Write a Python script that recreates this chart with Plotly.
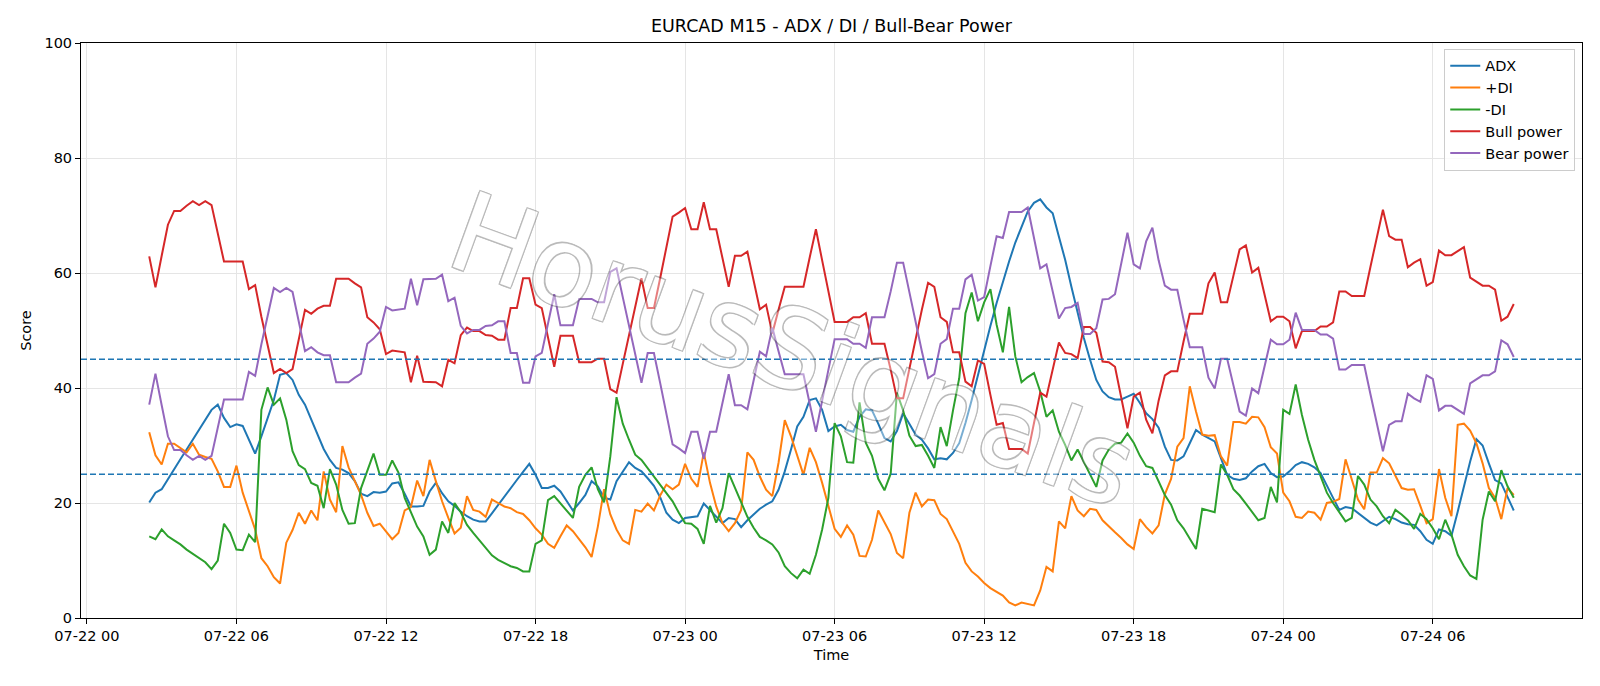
import pandas as pd
import plotly.graph_objects as go

start_time = "2025-07-22 02:30"
n_points = 220
times = pd.date_range(start_time, periods=n_points, freq="15min")

adx = [
    20.1, 21.8, 22.4, 24.2, 25.9, 27.6, 29.3, 31.0, 32.7, 34.5,
    36.2, 37.1, 34.8, 33.2, 33.7, 33.4, 31.0, 28.6, 31.6, 34.8,
    37.9, 42.3, 42.6, 41.4, 38.8, 37.1, 34.5, 32.0, 29.4, 27.5,
    26.1, 25.8, 25.2, 23.8, 21.6, 21.2, 21.9, 21.8, 22.0, 23.4,
    23.6, 21.6, 19.4, 19.4, 19.5, 22.0, 23.5, 21.7, 20.3, 19.5,
    18.5, 17.7, 17.1, 16.8, 16.8, 18.2, 19.7, 21.1, 22.5, 24.0,
    25.4, 26.8, 24.9, 22.6, 22.6, 23.0, 22.0, 20.3, 18.7, 20.0,
    21.4, 23.8, 22.9, 20.9, 20.6, 23.8, 25.5, 27.1, 26.1, 25.5,
    24.3, 23.0, 21.0, 18.3, 17.1, 16.5, 17.4, 17.6, 17.7, 19.9,
    18.8, 17.7, 16.5, 17.4, 17.2, 15.8, 17.0, 18.0, 19.0, 19.7,
    20.3, 22.3, 25.5, 29.3, 33.3, 35.0, 37.9, 38.2, 36.2, 32.5,
    33.3, 33.6, 32.7, 32.4, 35.0, 36.3, 36.1, 33.8, 31.3, 30.7,
    32.5, 35.6, 33.8, 31.9, 31.0, 29.5, 27.6, 27.8, 27.6, 28.7,
    30.4, 33.9, 37.9, 42.3, 46.3, 50.8, 54.8, 58.5, 62.0, 65.3,
    68.1, 70.7, 72.2, 72.8, 71.4, 70.4, 66.3, 62.3, 57.6, 53.0,
    48.7, 44.9, 41.4, 39.4, 38.4, 38.0, 38.0, 38.5, 39.0, 37.4,
    35.6, 34.6, 33.1, 29.8, 27.5, 27.4, 28.1, 30.4, 32.7, 31.9,
    31.3, 30.7, 27.8, 24.9, 24.2, 24.0, 24.3, 25.5, 26.4, 26.8,
    25.2, 24.5, 24.6, 25.5, 26.6, 27.1, 26.8, 26.2, 25.2, 22.9,
    20.9, 18.8, 19.3, 19.1, 18.3, 17.4, 16.6, 16.1, 16.8, 17.6,
    17.2, 16.6, 16.3, 16.2, 15.1, 13.6, 12.9, 15.4, 15.1, 14.3,
    18.5, 22.9, 27.2, 31.1, 30.0, 26.9, 24.0, 23.4, 21.1, 18.7,
]

plus_di = [
    32.3, 28.3, 26.7, 30.3, 30.3, 29.6, 28.8, 30.3, 28.4, 28.0,
    27.7, 25.5, 22.8, 22.8, 26.5, 21.8, 18.5, 15.4, 10.4, 9.0,
    7.1, 6.0, 13.1, 15.3, 18.3, 16.4, 18.7, 17.0, 25.5, 20.6,
    18.4, 29.9, 26.2, 23.8, 21.4, 18.3, 16.0, 16.4, 15.1, 13.7,
    14.8, 18.7, 19.3, 23.9, 21.2, 27.5, 23.8, 20.3, 17.4, 14.7,
    15.7, 21.2, 18.8, 18.5, 17.6, 20.6, 20.0, 19.4, 19.1, 18.4,
    18.1, 17.0, 15.6, 14.5, 12.9, 12.2, 14.2, 16.1, 15.1, 13.7,
    12.3, 10.6, 15.9, 22.4, 18.0, 15.4, 13.5, 12.9, 18.8, 18.5,
    19.9, 18.7, 21.3, 23.2, 22.4, 23.2, 26.8, 24.2, 22.8, 28.8,
    23.5, 19.4, 16.5, 15.1, 16.5, 18.8, 28.8, 27.5, 24.6, 22.3,
    21.2, 27.0, 34.4, 31.6, 28.4, 24.9, 29.6, 27.1, 23.5, 19.4,
    15.5, 14.1, 16.1, 14.5, 10.8, 10.7, 13.6, 18.7, 16.6, 14.6,
    11.3, 10.4, 18.3, 21.8, 19.4, 20.6, 20.5, 18.1, 17.2, 14.9,
    12.9, 9.6, 8.1, 7.2, 6.1, 5.2, 4.6, 3.9, 2.7, 2.2,
    2.7, 2.5, 2.2, 4.8, 8.9, 8.1, 16.8, 15.6, 21.2, 18.7,
    17.7, 19.0, 18.8, 17.0, 15.9, 14.9, 13.9, 12.8, 12.0, 17.2,
    15.8, 14.7, 16.1, 21.5, 24.2, 29.8, 31.3, 40.3, 35.9, 31.9,
    31.7, 31.8, 28.1, 26.5, 34.1, 34.1, 33.8, 35.0, 34.9, 33.2,
    29.7, 28.6, 21.8, 20.3, 17.6, 17.4, 18.5, 18.3, 17.1, 20.0,
    20.2, 20.7, 27.6, 24.3, 20.6, 18.9, 25.3, 25.3, 27.8, 26.9,
    24.6, 22.6, 22.3, 22.4, 19.5, 16.5, 17.2, 25.9, 20.9, 17.7,
    33.6, 33.8, 32.6, 30.4, 26.9, 22.6, 20.9, 17.2, 22.6, 21.4,
]

minus_di = [
    14.2, 13.7, 15.4, 14.2, 13.5, 12.8, 11.9, 11.2, 10.4, 9.7,
    8.5, 10.0, 16.4, 14.8, 11.9, 11.8, 14.5, 13.2, 36.2, 40.1,
    37.1, 38.2, 34.5, 29.0, 26.6, 25.9, 23.5, 23.0, 19.1, 25.9,
    23.2, 18.8, 16.4, 16.5, 22.6, 25.8, 28.6, 24.9, 24.9, 27.4,
    25.3, 20.9, 18.5, 15.9, 14.2, 11.0, 11.9, 16.8, 14.8, 20.0,
    18.4, 16.2, 14.8, 13.5, 12.4, 10.9, 10.1, 9.5, 9.0, 8.7,
    8.1, 8.1, 12.9, 13.5, 20.5, 21.2, 19.9, 18.5, 17.4, 22.8,
    24.9, 26.2, 22.4, 20.1, 28.1, 38.4, 33.8, 31.0, 28.4, 27.5,
    26.1, 24.7, 23.3, 21.8, 20.3, 18.3, 16.5, 16.4, 15.5, 12.9,
    19.5, 16.6, 19.1, 25.2, 22.6, 20.0, 17.6, 15.7, 14.1, 13.5,
    12.8, 11.4, 9.0, 7.8, 6.9, 8.4, 7.7, 11.0, 15.4, 20.9,
    33.9, 31.6, 27.1, 27.0, 37.5, 30.5, 28.2, 24.2, 22.2, 25.1,
    39.2, 36.1, 31.7, 29.9, 30.1, 28.2, 26.1, 33.2, 29.9, 36.1,
    41.7, 53.0, 56.6, 51.6, 54.9, 57.2, 51.0, 46.2, 54.1, 45.5,
    41.0, 41.9, 42.6, 39.4, 35.0, 36.1, 32.4, 30.1, 27.4, 29.3,
    27.1, 25.1, 22.8, 27.4, 29.3, 30.3, 30.5, 32.1, 30.5, 28.2,
    26.4, 26.1, 23.8, 21.4, 19.7, 17.0, 15.6, 13.7, 12.0, 19.0,
    18.7, 18.4, 26.7, 24.9, 22.4, 21.3, 19.9, 18.5, 17.0, 17.4,
    22.8, 20.1, 36.2, 35.5, 40.6, 35.3, 31.0, 27.5, 24.5, 21.8,
    20.0, 18.5, 16.8, 17.4, 24.7, 23.2, 20.6, 19.4, 17.7, 16.5,
    18.8, 18.0, 17.0, 15.5, 18.1, 17.2, 15.6, 13.7, 17.1, 14.5,
    11.0, 9.0, 7.4, 6.8, 17.1, 22.0, 20.3, 25.7, 22.9, 20.9,
]

bull_power = [
    62.9, 57.5, 63.0, 68.4, 70.8, 70.8, 71.7, 72.5, 71.8, 72.5,
    71.8, 67.0, 62.0, 62.0, 62.0, 62.0, 57.2, 57.9, 52.4, 47.5,
    42.6, 43.3, 42.6, 43.3, 48.4, 53.6, 52.9, 53.8, 54.3, 54.3,
    59.0, 59.0, 59.0, 58.2, 57.5, 52.3, 51.4, 50.2, 45.9, 46.5,
    46.3, 46.2, 41.0, 45.6, 41.1, 41.1, 41.0, 40.3, 44.9, 44.3,
    49.2, 50.5, 49.9, 49.9, 49.2, 49.1, 48.4, 48.4, 53.9, 53.9,
    59.1, 59.1, 54.5, 53.9, 48.8, 43.7, 49.1, 49.1, 49.1, 44.5,
    44.5, 44.5, 45.1, 45.1, 39.8, 39.2, 44.2, 49.2, 54.1, 59.1,
    53.9, 53.9, 59.1, 64.5, 69.8, 70.5, 71.3, 67.6, 67.6, 72.3,
    67.6, 67.6, 62.6, 57.6, 63.0, 63.0, 63.7, 58.8, 53.7, 54.5,
    49.5, 53.6, 57.6, 57.6, 57.6, 57.6, 62.7, 67.6, 62.2, 56.9,
    51.5, 51.5, 51.5, 52.3, 52.3, 53.0, 47.7, 47.7, 47.7, 43.2,
    38.2, 38.2, 43.4, 48.7, 53.6, 58.3, 57.6, 52.3, 51.5, 46.2,
    46.2, 41.1, 40.3, 44.8, 44.2, 38.8, 33.6, 33.9, 29.4, 29.4,
    29.4, 28.6, 33.9, 39.2, 38.5, 43.2, 47.9, 46.1, 45.9, 45.2,
    50.6, 50.6, 49.6, 44.6, 44.5, 43.7, 38.5, 33.0, 38.5, 39.2,
    34.5, 32.1, 37.8, 42.2, 42.9, 42.9, 48.1, 52.9, 52.9, 52.9,
    58.2, 60.1, 54.9, 54.9, 59.5, 64.1, 64.8, 60.1, 60.9, 56.2,
    51.6, 52.4, 52.4, 51.6, 46.9, 49.9, 49.9, 49.9, 50.7, 50.7,
    51.4, 56.8, 56.8, 56.0, 56.0, 56.0, 61.1, 66.0, 71.0, 66.4,
    65.8, 65.8, 61.0, 61.8, 62.4, 57.8, 58.4, 63.9, 63.1, 63.1,
    63.8, 64.5, 59.2, 58.5, 57.8, 57.8, 57.1, 51.7, 52.4, 54.6,
]

bear_power = [
    37.1, 42.5, 37.0, 31.6, 29.2, 29.2, 28.3, 27.5, 28.2, 27.5,
    28.2, 33.0, 38.0, 38.0, 38.0, 38.0, 42.8, 42.1, 47.6, 52.5,
    57.4, 56.7, 57.4, 56.7, 51.6, 46.4, 47.1, 46.2, 45.7, 45.7,
    41.0, 41.0, 41.0, 41.8, 42.5, 47.7, 48.6, 49.8, 54.1, 53.5,
    53.7, 53.8, 59.0, 54.4, 58.9, 58.9, 59.0, 59.7, 55.1, 55.7,
    50.8, 49.5, 50.1, 50.1, 50.8, 50.9, 51.6, 51.6, 46.1, 46.1,
    40.9, 40.9, 45.5, 46.1, 51.2, 56.3, 50.9, 50.9, 50.9, 55.5,
    55.5, 55.5, 54.9, 54.9, 60.2, 60.8, 55.8, 50.8, 45.9, 40.9,
    46.1, 46.1, 40.9, 35.5, 30.2, 29.5, 28.7, 32.4, 32.4, 27.7,
    32.4, 32.4, 37.4, 42.4, 37.0, 37.0, 36.3, 41.2, 46.3, 45.5,
    50.5, 46.4, 42.4, 42.4, 42.4, 42.4, 37.3, 32.4, 37.8, 43.1,
    48.5, 48.5, 48.5, 47.7, 47.7, 47.0, 52.3, 52.3, 52.3, 56.8,
    61.8, 61.8, 56.6, 51.3, 46.4, 41.7, 42.4, 47.7, 48.5, 53.8,
    53.8, 58.9, 59.7, 55.2, 55.8, 61.2, 66.4, 66.1, 70.6, 70.6,
    70.6, 71.4, 66.1, 60.8, 61.5, 56.8, 52.1, 53.9, 54.1, 54.8,
    49.4, 49.4, 50.4, 55.4, 55.5, 56.3, 61.5, 67.0, 61.5, 60.8,
    65.5, 67.9, 62.2, 57.8, 57.1, 57.1, 51.9, 47.1, 47.1, 47.1,
    41.8, 39.9, 45.1, 45.1, 40.5, 35.9, 35.2, 39.9, 39.1, 43.8,
    48.4, 47.6, 47.6, 48.4, 53.1, 50.1, 50.1, 50.1, 49.3, 49.3,
    48.6, 43.2, 43.2, 44.0, 44.0, 44.0, 38.9, 34.0, 29.0, 33.6,
    34.2, 34.2, 39.0, 38.2, 37.6, 42.2, 41.6, 36.1, 36.9, 36.9,
    36.2, 35.5, 40.8, 41.5, 42.2, 42.2, 42.9, 48.3, 47.6, 45.4,
]

series_names = ["ADX", "+DI", "-DI", "Bull power", "Bear power"]
series_values = [adx, plus_di, minus_di, bull_power, bear_power]
colors = ["#1f77b4", "#ff7f0e", "#2ca02c", "#d62728", "#9467bd"]
ref_levels = [45, 25]
x_range = ["2025-07-21 23:45:45", "2025-07-24 11:59:15"]

FONT = "DejaVu Sans"
TICK_SIZE = 14.5

fig = go.Figure()
for name, vals, col in zip(series_names, series_values, colors):
    fig.add_trace(go.Scatter(x=times, y=vals, mode="lines", name=name,
                             line=dict(color=col, width=2)))

for lvl in ref_levels:
    fig.add_shape(type="line", xref="paper", x0=0, x1=1, yref="y", y0=lvl, y1=lvl,
                  line=dict(color="#1f77b4", width=1.3, dash="6px,3px"), layer="above")

fig.add_annotation(
    text="HorusSignals", xref="paper", yref="paper", x=0.474, y=0.466,
    showarrow=False, textangle=20, opacity=0.4,
    font=dict(family=FONT, size=110, color="white",
              shadow="1.2px 1.2px 0 #555, -1.2px -1.2px 0 #555, 1.2px -1.2px 0 #555, -1.2px 1.2px 0 #555"),
)

axis_common = dict(
    showline=True, linecolor="black", linewidth=1, mirror=True,
    ticks="outside", ticklen=5, tickcolor="black", tickwidth=1,
    showgrid=True, gridcolor="#e5e5e5", gridwidth=1, zeroline=False,
    tickfont=dict(family=FONT, size=TICK_SIZE, color="black"),
)

fig.update_layout(
    width=1600, height=686,
    margin=dict(l=81, r=18, t=43, b=68),
    paper_bgcolor="white", plot_bgcolor="white",
    font=dict(family=FONT, size=TICK_SIZE, color="black"),
    title=dict(text="EURCAD M15 - ADX / DI / Bull-Bear Power", x=0.5, xref="paper",
               xanchor="center", y=0.962, yref="container", yanchor="middle",
               font=dict(family=FONT, size=17.5, color="black")),
    xaxis=dict(type="date", range=x_range, tickformat="%m-%d %H",
               dtick=6 * 3600 * 1000, tick0="2025-07-22 00:00",
               title=dict(text="Time", font=dict(family=FONT, size=TICK_SIZE), standoff=6),
               **axis_common),
    yaxis=dict(range=[0, 100], dtick=20,
               title=dict(text="Score", font=dict(family=FONT, size=TICK_SIZE), standoff=9),
               **axis_common),
    legend=dict(x=0.9955, xanchor="right", y=0.99, yanchor="top",
                bgcolor="rgba(255,255,255,0.8)", bordercolor="#cccccc", borderwidth=1,
                font=dict(family=FONT, size=TICK_SIZE, color="black")),
    showlegend=True,
)

fig.write_html("out.html")
